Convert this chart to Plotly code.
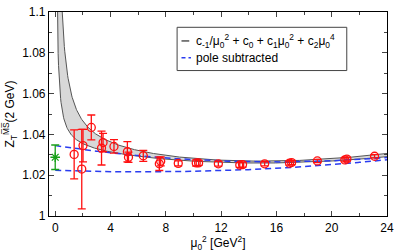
import numpy as np
import plotly.graph_objects as go

# ---- data ----
mu2 = [1.37, 1.92, 2.01, 2.61, 3.35, 3.46, 4.25, 5.22, 5.30, 6.37, 7.53, 7.63,
       8.90, 10.20, 10.37, 11.80, 13.35, 13.55, 15.15, 16.95, 17.10, 18.96,
       20.95, 21.10, 23.10]
z_val = [1.0302, 1.0230, 1.0345, 1.0434, 1.0333, 1.0360, 1.0341, 1.0315, 1.0288, 1.0295,
         1.0256, 1.0268, 1.0258, 1.0260, 1.0260, 1.0256, 1.0250, 1.0252, 1.0256, 1.0259,
         1.0262, 1.0270, 1.0275, 1.0279, 1.0293]
z_err = [0.0120, 0.0195, 0.0080, 0.0061, 0.0083, 0.0045, 0.0033, 0.0050, 0.0025, 0.0027,
         0.0033, 0.0022, 0.0012, 0.0015, 0.0012, 0.0012, 0.0012, 0.0012, 0.0010, 0.0010,
         0.0010, 0.0008, 0.0010, 0.0010, 0.0008]

extrap_x = [0.0]
extrap_y = [1.0288]
extrap_err = [0.0060]

# fit-band boundaries: c_-1/x + c0 + c1 x + c2 x^2
band_hi = [0.0348, 1.0310, -1.02e-3, 3.94e-5]
band_lo = [0.0100, 1.03231, -9.97e-4, 3.524e-5]
# pole subtracted curves: c0 + c1 x + c2 x^2
pole_hi = [1.0345, -1.013e-3, 3.21e-5]
pole_lo = [1.0224, -2.435e-4, 1.912e-5]

x_ticks = [0, 4, 8, 12, 16, 20, 24]
y_ticks = [1.0, 1.02, 1.04, 1.06, 1.08, 1.1]
y_ticktext = ["1", "1.02", "1.04", "1.06", "1.08", "1.1"]

fig = go.Figure()

xs = np.linspace(0.03, 24, 800)
def fitcurve(c, x):
    return c[0] / x + c[1] + c[2] * x + c[3] * x ** 2
def polycurve(c, x):
    return c[0] + c[1] * x + c[2] * x ** 2

yhi = np.minimum(fitcurve(band_hi, xs), 1.2)
ylo = np.minimum(fitcurve(band_lo, xs), 1.2)

fig.add_trace(go.Scatter(x=xs, y=ylo, mode="lines", line=dict(color="#555555", width=1),
                         showlegend=False, hoverinfo="skip"))
fig.add_trace(go.Scatter(x=xs, y=yhi, mode="lines", line=dict(color="#555555", width=1),
                         fill="tonexty", fillcolor="#d8d8d8", showlegend=False, hoverinfo="skip"))

xp = np.linspace(0, 24, 300)
for c in (pole_hi, pole_lo):
    fig.add_trace(go.Scatter(x=xp, y=polycurve(c, xp), mode="lines",
                             line=dict(color="#2a3cf0", width=1.5, dash="6px,4px"),
                             showlegend=False, hoverinfo="skip"))

fig.add_trace(go.Scatter(x=extrap_x, y=extrap_y, mode="markers",
                         marker=dict(symbol="asterisk-open", size=8, color="#18a018",
                                     line=dict(color="#18a018", width=1.3)),
                         error_y=dict(type="data", array=extrap_err, color="#18a018",
                                      thickness=1.3, width=4),
                         showlegend=False))

fig.add_trace(go.Scatter(x=mu2, y=z_val, mode="markers",
                         marker=dict(symbol="circle-open", size=8, color="#ff1010",
                                     line=dict(color="#ff1010", width=1.3)),
                         error_y=dict(type="data", array=z_err, color="#ff1010",
                                      thickness=1.3, width=4),
                         showlegend=False))

# legend drawn manually
fig.add_shape(type="rect", xref="paper", yref="paper", x0=0.379, x1=0.881, y0=0.713, y1=0.925,
              line=dict(color="#444444", width=1), fillcolor="white", layer="above")
fig.add_shape(type="line", xref="paper", yref="paper", x0=0.392, x1=0.415, y0=0.858, y1=0.858,
              line=dict(color="black", width=1), layer="above")
fig.add_shape(type="line", xref="paper", yref="paper", x0=0.392, x1=0.420, y0=0.776, y1=0.776,
              line=dict(color="#2a3cf0", width=1.5, dash="4px,3px"), layer="above")
fig.add_annotation(xref="paper", yref="paper", x=0.428, y=0.858, xanchor="left", yanchor="middle",
                   text="c<sub>-1</sub>/μ<sub>0</sub><sup>2</sup> + c<sub>0</sub> + c<sub>1</sub>μ<sub>0</sub><sup>2</sup> + c<sub>2</sub>μ<sub>0</sub><sup>4</sup>",
                   showarrow=False, font=dict(size=12, color="black"))
fig.add_annotation(xref="paper", yref="paper", x=0.428, y=0.776, xanchor="left", yanchor="middle",
                   text="pole subtracted", showarrow=False, font=dict(size=12, color="black"))

fig.update_layout(
    width=399, height=252,
    margin=dict(l=49, r=7, t=5, b=34),
    paper_bgcolor="white", plot_bgcolor="white",
    font=dict(family="Liberation Sans, Arial, sans-serif", size=12, color="black"),
    showlegend=False,
)
fig.update_xaxes(range=[-0.45, 24], tickvals=x_ticks, ticks="inside", ticklen=5,
                 showline=True, linecolor="black", linewidth=1.2, mirror="allticks",
                 showgrid=False, zeroline=False, ticklabeloverflow="allow",
                 minor=dict(ticks="inside", dtick=2, tick0=0, ticklen=3, showgrid=False),
                 title=dict(text="μ<sub>0</sub><sup>2</sup> [GeV<sup>2</sup>]", standoff=4,
                            font=dict(size=12)))
fig.update_yaxes(range=[1.0, 1.1], tickvals=y_ticks, ticktext=y_ticktext,
                 ticks="inside", ticklen=5, ticklabeloverflow="allow",
                 showline=True, linecolor="black", linewidth=1.2, mirror="allticks",
                 showgrid=False, zeroline=False,
                 minor=dict(ticks="inside", dtick=0.01, tick0=1.0, ticklen=3, showgrid=False),
                 title=dict(text="Z<sub>T</sub><sup>M̅S̅</sup>(2 GeV)", standoff=4,
                            font=dict(size=12)))

fig.write_html("out.html", config={"displayModeBar": False},
               post_script="document.body.style.margin='0';document.body.style.overflow='hidden';")
